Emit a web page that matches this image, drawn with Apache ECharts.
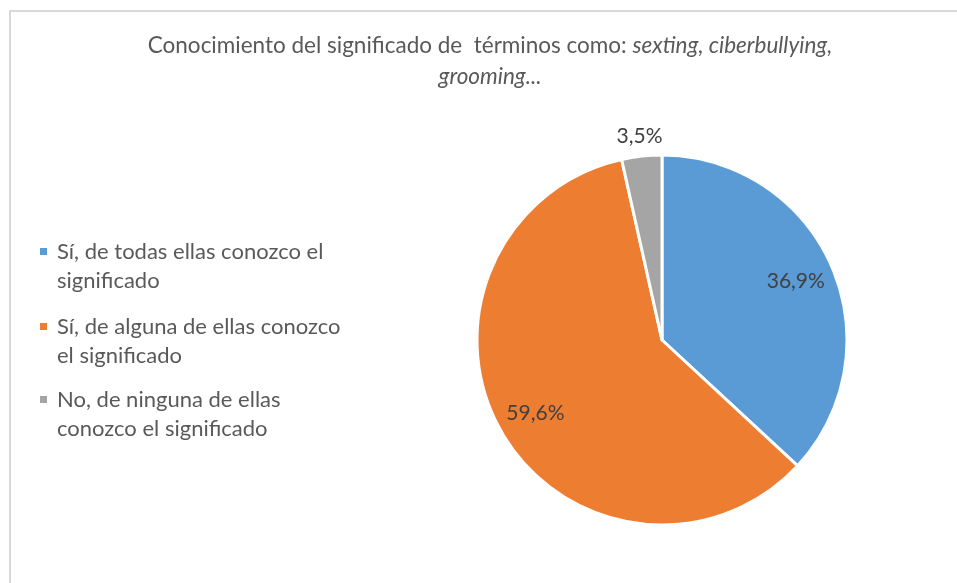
<!DOCTYPE html>
<html>
<head>
<meta charset="utf-8">
<script src="https://cdn.jsdelivr.net/npm/echarts@6/dist/echarts.min.js"></script>
<style>
  html, body { margin: 0; padding: 0; background: #ffffff; }
  #chart { width: 957px; height: 583px; }
</style>
</head>
<body>
<div id="chart"></div>
<script>
  // datos del gráfico
  var categories = [
    'Sí, de todas ellas conozco el significado',
    'Sí, de alguna de ellas conozco el significado',
    'No, de ninguna de ellas conozco el significado'
  ];
  var legendLines = [
    'Sí, de todas ellas conozco el\nsignificado',
    'Sí, de alguna de ellas conozco\nel significado',
    'No, de ninguna de ellas\nconozco el significado'
  ];
  var values = [36.9, 59.6, 3.5];
  var colors = ['#5B9BD5', '#ED7D31', '#A5A5A5'];

  var font = 'Lato';
  var chart = echarts.init(document.getElementById('chart'));

  var pieData = categories.map(function (name, i) {
    return { name: name, value: values[i], itemStyle: { color: colors[i] } };
  });

  function fmtPct(p) {
    return p.value.toFixed(1).replace('.', ',') + '%';
  }

  // una leyenda por elemento; la línea en blanco deja el cuadrado a la altura de la 1a línea
  var legendTops = [208, 283, 356];
  var legends = categories.map(function (name, i) {
    return {
      orient: 'vertical',
      left: 40,
      top: legendTops[i],
      padding: 0,
      icon: 'rect',
      itemWidth: 7,
      itemHeight: 7,
      selectedMode: false,
      data: [name],
      itemStyle: { borderWidth: 0 },
      formatter: function () { return ' \n' + legendLines[i]; },
      textStyle: {
        fontFamily: font,
        fontSize: 22,
        color: '#595959',
        lineHeight: 29,
        padding: [0, 0, 0, 5]
      }
    };
  });

  var option = {
    animation: false,
    title: {
      text: '{n|Conocimiento del significado de  términos como: }{i|sexting, ciberbullying,}\n{i|grooming...}',
      left: 490,
      top: 30,
      textAlign: 'center',
      padding: 0,
      textStyle: {
        fontFamily: font,
        fontSize: 22.5,
        fontWeight: 'normal',
        color: '#595959',
        lineHeight: 31,
        rich: {
          n: { fontFamily: font, fontSize: 22.5, color: '#595959', lineHeight: 31 },
          i: { fontFamily: font, fontSize: 22.5, color: '#595959', fontStyle: 'italic', lineHeight: 31 }
        }
      }
    },
    legend: legends,
    graphic: [{
      type: 'rect',
      shape: { x: 10, y: 11, width: 1000, height: 1000 },
      style: { fill: 'none', stroke: '#d9d9d9', lineWidth: 2 },
      silent: true
    }],
    series: [
      {
        type: 'pie',
        center: [662, 340],
        radius: 185,
        startAngle: 90,
        clockwise: true,
        data: pieData,
        itemStyle: { borderColor: '#ffffff', borderWidth: 3 },
        label: { show: false },
        labelLine: { show: false },
        emphasis: { disabled: true }
      },
      {
        // etiquetas interiores (36,9% y 59,6%)
        type: 'pie',
        center: [662, 340],
        radius: [0, 286],
        startAngle: 90,
        silent: true,
        data: pieData.map(function (d, i) {
          return {
            name: d.name, value: d.value,
            itemStyle: { color: 'rgba(0,0,0,0)' },
            label: { show: i < 2 }
          };
        }),
        label: {
          position: 'inside',
          formatter: fmtPct,
          fontFamily: font,
          fontSize: 21,
          color: '#404040'
        },
        labelLine: { show: false },
        emphasis: { disabled: true }
      },
      {
        // etiqueta exterior (3,5%)
        type: 'pie',
        center: [662, 340],
        radius: [0, 404],
        startAngle: 90,
        silent: true,
        data: pieData.map(function (d, i) {
          return {
            name: d.name, value: d.value,
            itemStyle: { color: 'rgba(0,0,0,0)' },
            label: { show: i === 2 }
          };
        }),
        label: {
          position: 'inside',
          formatter: fmtPct,
          fontFamily: font,
          fontSize: 21,
          color: '#404040'
        },
        labelLine: { show: false },
        emphasis: { disabled: true }
      }
    ]
  };
  chart.setOption(option);
</script>
</body>
</html>
